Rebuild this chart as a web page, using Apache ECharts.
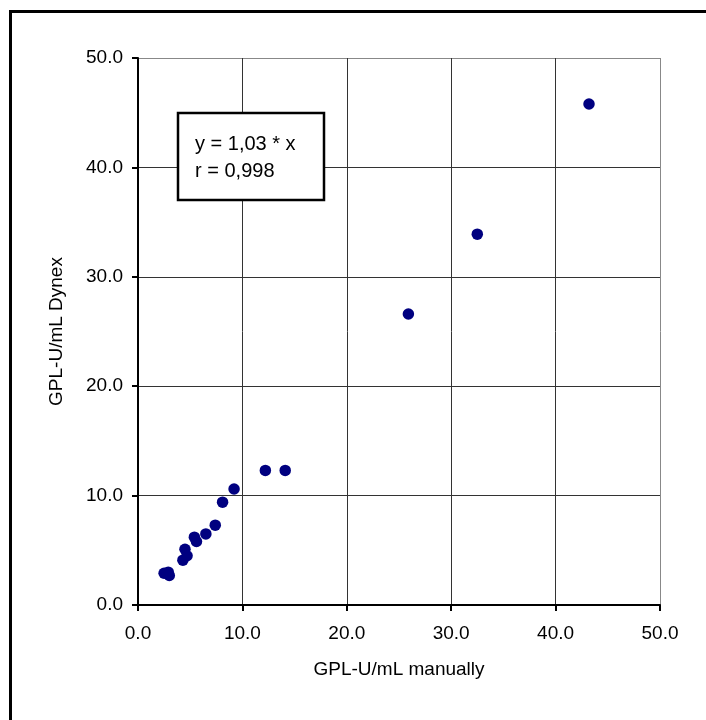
<!DOCTYPE html>
<html>
<head>
<meta charset="utf-8">
<script src="https://cdn.jsdelivr.net/npm/echarts@6/dist/echarts.min.js"></script>
<style>
  html, body { margin: 0; padding: 0; background: #fff; }
  #chart { width: 706px; height: 720px; }
</style>
</head>
<body>
<div id="chart"></div>
<script>
// values
var manual = [43.2, 32.5, 25.9, 12.2, 14.1, 9.2, 8.1, 7.4, 6.5, 5.4, 5.6, 4.5, 4.7, 4.3, 2.5, 2.9, 3.0];
var dynex  = [45.8, 33.9, 26.6, 12.3, 12.3, 10.6, 9.4, 7.3, 6.5, 6.2, 5.8, 5.1, 4.5, 4.1, 2.9, 3.0, 2.7];
var xTicks = [0, 10, 20, 30, 40, 50];
var yTicks = [0, 10, 20, 30, 40, 50];
var fitLines = ['y = 1,03 * x', 'r = 0,998'];

var points = manual.map(function (m, i) {
  return [m, dynex[i]];
});

var myChart = echarts.init(document.getElementById('chart'));

var gridColors = ['#333', '#333', '#333', '#333', '#333', '#888'];
var font = 'Liberation Sans, Arial, sans-serif';

var option = {
  animation: false,
  grid: { left: 138, right: 46, top: 58, bottom: 115 },
  xAxis: {
    type: 'value',
    min: xTicks[0],
    max: xTicks[xTicks.length - 1],
    interval: 10,
    name: 'GPL-U/mL manually',
    nameLocation: 'middle',
    nameGap: 55,
    nameTextStyle: { fontFamily: font, fontSize: 19, color: '#000' },
    axisLine: { lineStyle: { color: '#000', width: 2 } },
    axisTick: { show: true, length: 6, lineStyle: { color: '#000', width: 2 } },
    axisLabel: {
      fontFamily: font, fontSize: 19, color: '#000', margin: 19,
      formatter: function (v) { return v.toFixed(1); }
    },
    splitLine: { show: true, lineStyle: { color: gridColors, width: 1 } }
  },
  yAxis: {
    type: 'value',
    min: yTicks[0],
    max: yTicks[yTicks.length - 1],
    interval: 10,
    name: 'GPL-U/mL Dynex',
    nameLocation: 'middle',
    nameGap: 72,
    nameRotate: 90,
    nameTextStyle: { fontFamily: font, fontSize: 19, color: '#000' },
    axisLine: { show: true, lineStyle: { color: '#000', width: 2 } },
    axisTick: { show: true, length: 6, lineStyle: { color: '#000', width: 2 } },
    axisLabel: {
      fontFamily: font, fontSize: 19, color: '#000', margin: 15,
      formatter: function (v) { return v.toFixed(1); }
    },
    splitLine: { show: true, lineStyle: { color: gridColors, width: 1 } }
  },
  graphic: [
    {
      type: 'rect',
      shape: { x: 10.5, y: 11.5, width: 900, height: 900 },
      style: { fill: 'none', stroke: '#000', lineWidth: 3 },
      z: 100
    },
    {
      type: 'rect',
      shape: { x: 178, y: 113, width: 146, height: 87 },
      style: { fill: '#fff', stroke: '#000', lineWidth: 2.5 },
      z: 100
    },
    {
      type: 'text',
      left: 195,
      top: 131,
      style: {
        text: fitLines.join('\n'),
        font: '20px ' + font,
        lineHeight: 27,
        fill: '#000'
      },
      z: 101
    }
  ],
  series: [{
    name: 'samples',
    type: 'scatter',
    symbol: 'circle',
    symbolSize: 11.5,
    itemStyle: { color: '#000080', opacity: 1 },
    data: points
  }]
};

myChart.setOption(option);
</script>
</body>
</html>
